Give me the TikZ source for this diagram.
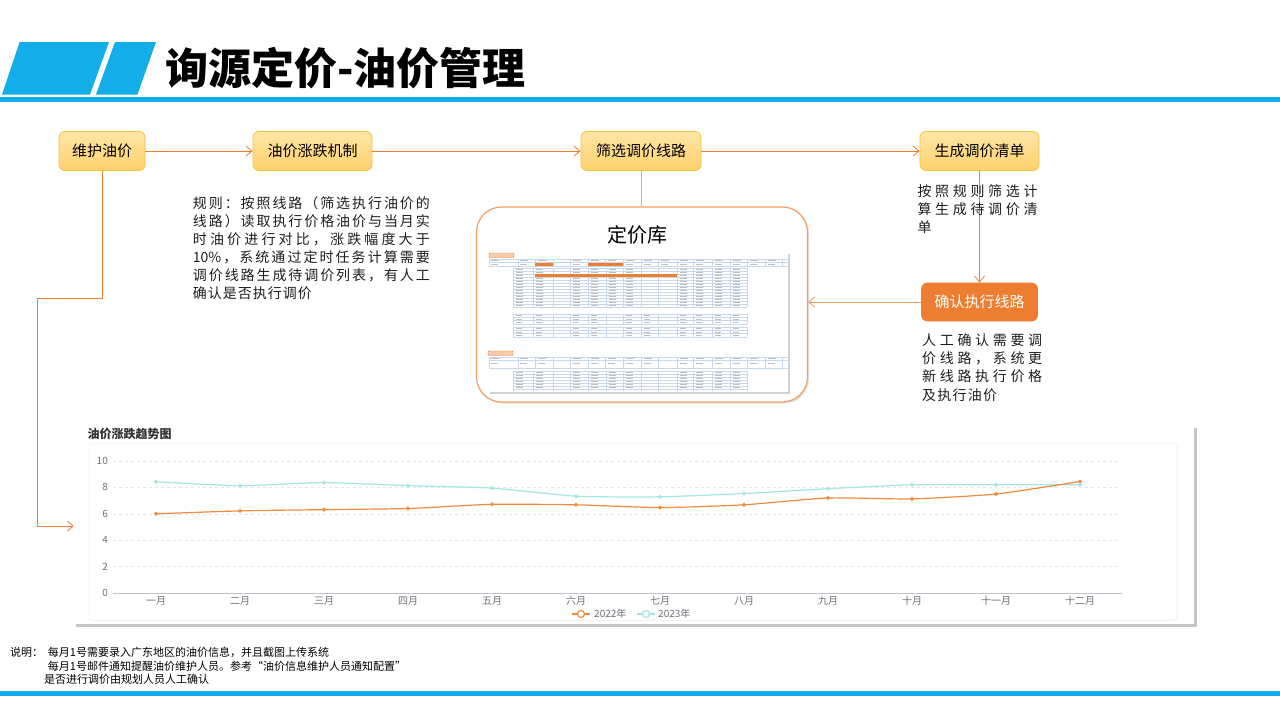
\documentclass[tikz,border=0pt]{standalone}
\usepackage{fontspec}
\setmainfont{Noto Sans CJK SC}
\usetikzlibrary{arrows.meta,shadows,calc}
\definecolor{tblue}{HTML}{13AEEA}
\definecolor{eorange}{HTML}{ED7D31}
\definecolor{yTop}{HTML}{FFE6A6}
\definecolor{yBot}{HTML}{FFD16C}
\definecolor{yBorder}{HTML}{F7C23E}
\definecolor{kBorder}{HTML}{F2A066}
\definecolor{lineBlue}{HTML}{86C9E8}
\definecolor{txtc}{HTML}{1E1E1E}
\definecolor{gridc}{HTML}{E3E6EC}
\definecolor{axisc}{HTML}{BFC3CB}
\definecolor{labc}{HTML}{6E7079}
\definecolor{cA}{HTML}{F08B3E}
\definecolor{cB}{HTML}{A3E6DF}
\definecolor{tline}{HTML}{C7D7EC}
\definecolor{ctitle}{HTML}{333333}
\definecolor{cardb}{HTML}{ECEFF3}
\definecolor{tagF}{HTML}{F8CBAD}
\makeatletter
\def\spr@loop#1{\ifx\relax#1\else#1\hfil\expandafter\spr@loop\fi}
\newcommand\spreadto[2]{\hbox to #1{\spr@loop#2\relax\unskip}}
\makeatother
\begin{document}
\begin{tikzpicture}[x=1pt,y=-1pt,
  ybox/.style={draw=yBorder, line width=0.8pt, rounded corners=6pt, top color=yTop, bottom color=yBot, minimum height=39pt, inner sep=0pt, font=\fontsize{15}{17}\selectfont, text=black},
  obox/.style={draw=eorange, fill=eorange, line width=0.8pt, rounded corners=6pt, minimum height=38pt, inner sep=0pt, font=\fontsize{15}{17}\selectfont, text=white},
  flow/.style={draw=eorange, line width=0.8pt, -{Straight Barb[length=6pt,width=10pt]}},
  txt/.style={anchor=west, inner sep=0pt, font=\fontsize{14}{16}\selectfont, text=txtc},
  note/.style={anchor=west, inner sep=0pt, font=\fontsize{11}{13}\selectfont, text=black},
  axlab/.style={inner sep=0pt, font=\fontsize{10}{12}\selectfont, text=labc},
  tbl/.style={draw=tline, line width=0.35pt},
  mk/.style={draw=black!25, line width=0.8pt}
]
\useasboundingbox (0,0) rectangle (1280,720);
\fill[white] (0,0) rectangle (1280,720);

% header
\fill[tblue] (19.6,42) -- (109,42) -- (90,94.5) -- (2,94.5) -- cycle;
\fill[tblue] (115,42) -- (156,42) -- (137.5,94.5) -- (96,94.5) -- cycle;
\fill[tblue] (0,97) rectangle (1280,102);
\node[anchor=west, inner sep=0pt, font=\fontsize{43}{50}\selectfont\bfseries] (title) at (165,68) {询源定价-油价管理};

% flow boxes
\node[ybox, minimum width=86pt] (A) at (102,151) {维护油价};
\node[ybox, minimum width=119pt] (B) at (312.5,151) {油价涨跌机制};
\node[ybox, minimum width=120pt] (C) at (641,151) {筛选调价线路};
\node[ybox, minimum width=119pt] (D) at (979.5,151) {生成调价清单};
\node[obox, minimum width=116pt] (E) at (979.5,302) {确认执行线路};

% pricing library box
\node[draw=kBorder, line width=1.2pt, fill=white, rounded corners=25pt, minimum width=331pt, minimum height=195pt, drop shadow={shadow xshift=1.5pt, shadow yshift=-1.5pt, opacity=0.25}] (K) at (642,304.5) {};
\node[inner sep=0pt, font=\fontsize{20}{24}\selectfont] (Kt) at (637,235) {定价库};

% table screenshot (simplified)
\fill[white, drop shadow={shadow xshift=2pt, shadow yshift=-2pt, opacity=0.35}] (488,252) rectangle (788,392);
\filldraw[fill=tagF, draw=eorange, line width=0.4pt, rounded corners=1pt] (489,253) rectangle (514,257.5);
\filldraw[fill=tagF, draw=eorange, line width=0.4pt, rounded corners=1pt] (488,351) rectangle (513,355.5);
% header 1
\foreach \yy in {259,262.5,266.5} \draw[tbl] (489,\yy) -- (788,\yy);
\foreach \xx in {489,518,535,553,570,588,605,623,641,658,677,693,712,730,747,765,782,788} \draw[tbl] (\xx,259) -- (\xx,266.5);
\foreach \xx in {490,519,537,572,590,607,625,643,660,679,695,714,732,749,767} {\draw[mk] (\xx+1,260.8) -- ++(8,0); \draw[mk] (\xx+1,264.6) -- ++(7,0);}
\fill[eorange] (535,263) rectangle (553,266.3);
\fill[eorange] (588,263) rectangle (623,266.3);
% sub table 1
\foreach \i in {0,...,13} \draw[tbl] (513,268+3*\i) -- (747,268+3*\i);
\foreach \xx in {513,533,553,570,588,606,623,641,658,677,693,712,730,747} \draw[tbl] (\xx,268) -- (\xx,307);
\foreach \i in {0,...,12} \foreach \xx in {515,535,572,590,608,625,679,695,714,732} \draw[mk] (\xx+1,269.5+3*\i) -- ++(7,0);
\fill[eorange] (535,274.3) rectangle (677,277);
% sub table 2 and 3
\foreach \yy in {314,317.3,320.6,324,327,330.3,333.6,337} \draw[tbl] (513,\yy) -- (747,\yy);
\foreach \xx in {513,533,553,570,588,606,623,641,658,677,693,712,730,747} {\draw[tbl] (\xx,314) -- (\xx,324); \draw[tbl] (\xx,327) -- (\xx,337);}
\foreach \yy in {315.6,318.9,322.3,328.6,331.9,335.3} \foreach \xx in {515,535,572,590,625,643,679,695,714,732} \draw[mk] (\xx+1,\yy) -- ++(6,0);
% header 2
\foreach \yy in {357,360.5,368} \draw[tbl] (489,\yy) -- (788,\yy);
\foreach \xx in {489,518,535,553,570,588,605,623,641,658,677,693,712,730,747,765,782,788} \draw[tbl] (\xx,357) -- (\xx,368);
\foreach \xx in {490,519,537,572,590,607,625,643,679,695,714,732,749,767} {\draw[mk] (\xx+1,358.8) -- ++(8,0); \draw[mk] (\xx+1,363.5) -- ++(7,0);}
% sub table 4
\foreach \i in {0,...,6} \draw[tbl] (513,371+3*\i) -- (747,371+3*\i);
\foreach \xx in {513,533,553,570,588,606,623,641,658,677,693,712,730,747} \draw[tbl] (\xx,371) -- (\xx,391);
\foreach \i in {0,...,5} \foreach \xx in {515,535,572,590,608,625,679,695,714,732} \draw[mk] (\xx+1,372.5+3*\i) -- ++(7,0);

% connectors
\draw[flow] (A.east) -- (B.west);
\draw[flow] (B.east) -- (C.west);
\draw[flow] (C.east) -- (D.west);
\draw[flow] (D.south) -- (E.north);
\draw[flow, draw=eorange!75] (E.west) -- (E.west -| K.east);
\draw[draw=lineBlue, line width=1pt] (C.south) -- (C.south |- K.north);
\coordinate (L1) at (37,298);
\coordinate (L2) at (74,526);
\draw[flow] (A.south) |- (L1) |- (L2);

% text block 1
\node[txt] (t1a) at (192.7,202.7) {\spreadto{237pt}{规则：按照线路（筛选执行油价的}};
\node[txt] (t1b) at (192.7,220.9) {\spreadto{237pt}{线路）读取执行价格油价与当月实}};
\node[txt] (t1c) at (192.7,239.1) {\spreadto{237pt}{时油价进行对比，涨跌幅度大于}};
\node[txt] (t1d) at (192.7,257.3) {\spreadto{237pt}{{10\%}，系统通过定时任务计算需要}};
\node[txt] (t1e) at (192.7,275.5) {\spreadto{237pt}{调价线路生成待调价列表，有人工}};
\node[txt] (t1f) at (192.7,293.7) {\spreadto{119pt}{确认是否执行调价}};

% text block 2
\node[txt] (t2a) at (917.3,190.7) {\spreadto{120pt}{按照规则筛选计}};
\node[txt] (t2b) at (917.3,209.0) {\spreadto{120pt}{算生成待调价清}};
\node[txt] (t2c) at (917.3,227.3) {单};

% text block 3
\node[txt] (t3a) at (922,340) {\spreadto{120pt}{人工确认需要调}};
\node[txt] (t3b) at (922,358.3) {\spreadto{120pt}{价线路，系统更}};
\node[txt] (t3c) at (922,376.6) {\spreadto{120pt}{新线路执行价格}};
\node[txt] (t3d) at (922,394.9) {\spreadto{75pt}{及执行油价}};

% chart
\fill[white, drop shadow={shadow xshift=2.5pt, shadow yshift=-2.5pt, opacity=0.45}] (73,425) rectangle (1194,624);
\node[anchor=west, inner sep=0pt, font=\fontsize{12}{14}\selectfont\bfseries, text=ctitle] (ct) at (87.5,433.5) {油价涨跌趋势图};
\filldraw[fill=white, draw=cardb, line width=0.5pt, rounded corners=3pt, drop shadow={shadow xshift=0.8pt, shadow yshift=-0.8pt, opacity=0.1}] (88,443) rectangle (1177,620);
\foreach \v in {2,4,6,8,10} \draw[gridc, dash pattern=on 3pt off 3pt, line width=0.5pt] (113,{593-13.2*\v}) -- (1122,{593-13.2*\v});
\draw[axisc, line width=0.8pt] (113,593) -- (1122,593);
\foreach \v in {0,2,4,6,8,10} \node[axlab, anchor=east] at (108,{593-13.2*\v}) {\v};
\foreach \m [count=\i from 0] in {一月,二月,三月,四月,五月,六月,七月,八月,九月,十月,十一月,十二月}
  \node[axlab] at ({156+84*\i},601) {\m};
\draw[cB, line width=1.2pt] plot[smooth, tension=0.35, mark=*, mark size=1.3pt, mark options={draw=cB, fill=cB}] coordinates {(156,481.7) (240,485.7) (324,482.6) (408,485.7) (492,488.1) (576,496.2) (660,496.8) (744,493.5) (828,488.7) (912,484.8) (996,484.8) (1080,484.8)};
\draw[cA, line width=1.2pt] plot[smooth, tension=0.35, mark=*, mark size=1.3pt, mark options={draw=cA, fill=cA}] coordinates {(156,513.8) (240,510.9) (324,509.6) (408,508.5) (492,504.3) (576,504.8) (660,507.6) (744,504.8) (828,498.0) (912,498.9) (996,494.0) (1080,481.5)};
% legend
\draw[cA, line width=1.2pt] (572,614) -- (590,614);
\filldraw[draw=cA, fill=white, line width=1.2pt] (581,614) circle (3.5);
\node[axlab, anchor=west] (lg1) at (594,614) {2022年};
\draw[cB, line width=1.2pt] (637,614) -- (655,614);
\filldraw[draw=cB, fill=white, line width=1.2pt] (646,614) circle (3.5);
\node[axlab, anchor=west] (lg2) at (658,614) {2023年};

% notes
\node[note] (n0) at (10,652) {说明：};
\node[note] (n1) at (47.7,652) {每月1号需要录入广东地区的油价信息，并且截图上传系统};
\node[note] (n2) at (47.7,666.7) {每月1号邮件通知提醒油价维护人员。参考“油价信息维护人员通知配置”};
\node[note] (n3) at (44,679.3) {是否进行调价由规划人员人工确认};
\fill[tblue] (0,691) rectangle (1280,696);
\end{tikzpicture}
\end{document}
